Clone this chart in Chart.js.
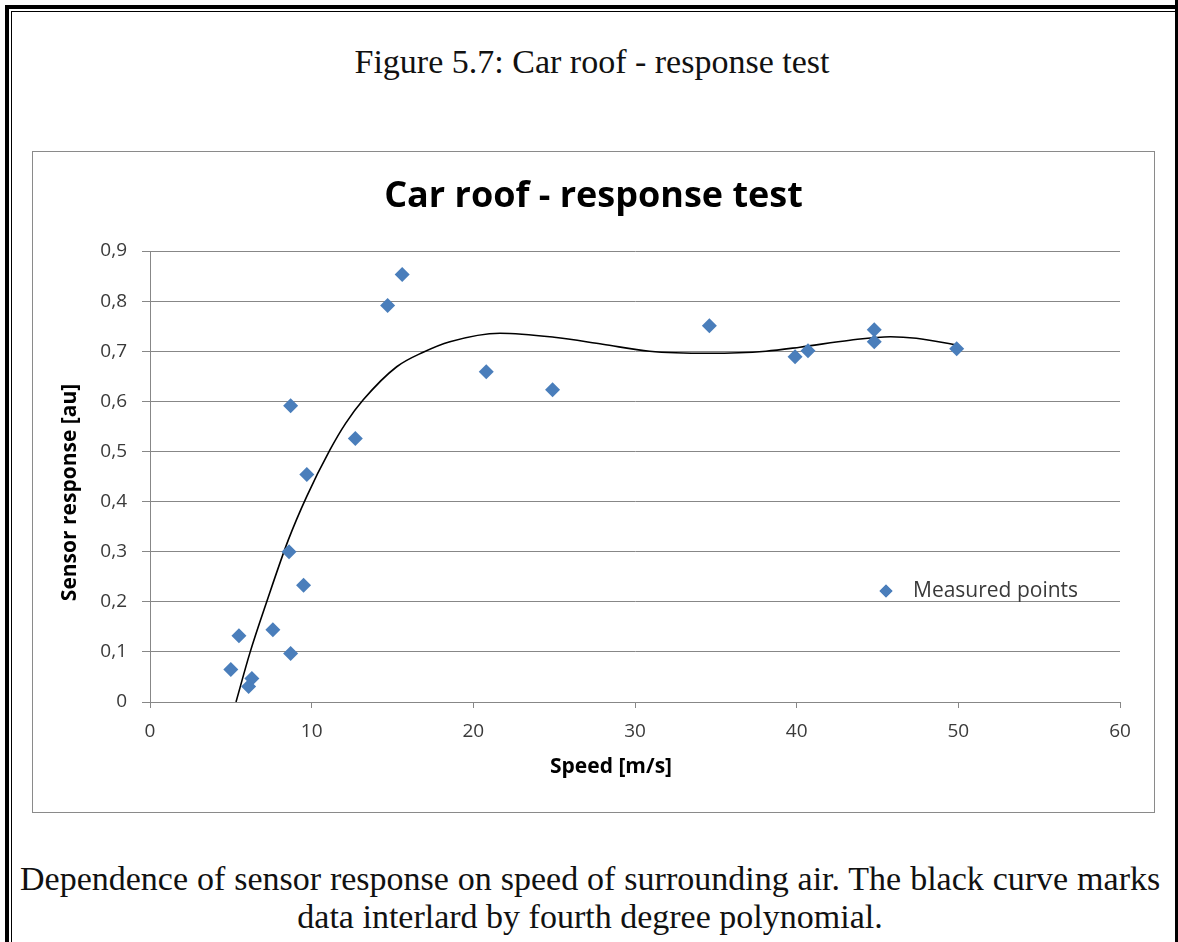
<!DOCTYPE html>
<html>
<head>
<meta charset="utf-8">
<title>Car roof - response test</title>
<script src="https://cdn.jsdelivr.net/npm/chart.js@4.4.1/dist/chart.umd.min.js"></script>
<style>
  html, body { margin: 0; padding: 0; background: #fff; }
  body { width: 1178px; height: 942px; position: relative; overflow: hidden; }
  .rule-thick { position: absolute; left: 5px; top: 5px; width: 1300px; height: 1100px;
                border-left: 4px solid #000; border-top: 4px solid #000; }
  .rule-thin  { position: absolute; left: 11px; top: 11px; width: 1300px; height: 1100px;
                border-left: 1.5px solid #000; border-top: 1.5px solid #000; }
  .rule-right { position: absolute; left: 1175px; top: 0; width: 3px; height: 942px; background: #000; }
  .cap { position: absolute; font-family: "Liberation Serif", serif; font-size: 34px;
         line-height: 34px; color: #111; white-space: nowrap; }
  #figTitle { left: 0; width: 1184px; top: 44.5px; text-align: center; }
  #capLine1 { left: 20px; top: 861.5px; }
  #capLine2 { left: 0; width: 1180px; top: 899.5px; text-align: center; }
  #frame { position: absolute; left: 32px; top: 151px; width: 1123px; height: 662px;
           box-sizing: border-box; border: 1px solid #8a8a8a; }
  #chart { position: absolute; left: 32px; top: 151px; }
</style>
</head>
<body>
<div class="rule-thick"></div>
<div class="rule-thin"></div>
<div class="rule-right"></div>
<div class="cap" id="figTitle">Figure 5.7: Car roof - response test</div>
<div id="frame"></div>
<canvas id="chart" width="1123" height="662"></canvas>
<div class="cap" id="capLine1">Dependence of sensor response on speed of surrounding air. The black curve marks</div>
<div class="cap" id="capLine2">data interlard by fourth degree polynomial.</div>
<script>
// Measured sensor response against air speed
const speed    = [5.0, 5.5, 6.3, 6.1, 7.6, 8.7, 8.6, 9.5, 9.7, 8.7, 12.7, 14.7, 15.6, 20.8, 24.9, 34.6, 39.9, 40.7, 44.8, 44.8, 49.9];
const response = [0.065, 0.132, 0.047, 0.031, 0.144, 0.097, 0.300, 0.233, 0.454, 0.591, 0.526, 0.791, 0.853, 0.659, 0.623, 0.751, 0.689, 0.701, 0.743, 0.719, 0.705];

// Fourth degree polynomial trend line, sampled along the curve
const trendSpeed    = [5.32, 6.18, 7.22, 8.55, 9.69, 11.13, 12.1, 13.19, 15.26, 16.9, 18.55, 21.65, 25.0, 28.0, 30.9, 34.6, 38.1, 40.2, 43.3, 45.8, 47.4, 50.0];
const trendResponse = [0.0, 0.098, 0.200, 0.323, 0.410, 0.503, 0.556, 0.603, 0.669, 0.698, 0.719, 0.736, 0.728, 0.714, 0.700, 0.696, 0.700, 0.708, 0.722, 0.729, 0.726, 0.712];

const yTickLabels = ['0', '0,1', '0,2', '0,3', '0,4', '0,5', '0,6', '0,7', '0,8', '0,9'];
const xTickLabels = ['0', '10', '20', '30', '40', '50', '60'];

const chartTitle = 'Car roof - response test';
const xTitle = 'Speed [m/s]';
const yTitle = 'Sensor response [au]';
const legendLabel = 'Measured points';

const markerColor = '#4a7ebb';
const gridColor = '#878787';
const FONT = '"Open Sans", "DejaVu Sans", sans-serif';

const measured = speed.map((s, i) => ({ x: s, y: response[i] }));
const trend = trendSpeed.map((s, i) => ({ x: s, y: trendResponse[i] }));

// Axis titles and the in-plot legend entry
const annotations = {
  id: 'annotations',
  afterDraw(chart) {
    const { ctx, chartArea: a } = chart;
    ctx.save();
    ctx.fillStyle = '#000';
    ctx.font = 'bold 21px ' + FONT;
    ctx.textAlign = 'center';
    ctx.textBaseline = 'middle';
    ctx.fillText(xTitle, (a.left + a.right) / 2 - 24, a.bottom + 65);
    ctx.save();
    ctx.translate(38, (a.top + a.bottom) / 2 + 16);
    ctx.rotate(-Math.PI / 2);
    ctx.fillText(yTitle, 0, 0);
    ctx.restore();

    const lx = a.right - 234, ly = a.top + 340;
    ctx.fillStyle = markerColor;
    Chart.helpers.drawPoint(ctx, { pointStyle: 'rectRot', radius: 6.5, borderWidth: 0 }, lx, ly);
    ctx.fill();
    ctx.fillStyle = '#3a3a3a';
    ctx.font = '21px ' + FONT;
    ctx.textAlign = 'left';
    ctx.fillText(legendLabel, lx + 27, ly);
    ctx.restore();
  }
};

new Chart(document.getElementById('chart'), {
  type: 'scatter',
  data: {
    datasets: [
      {
        label: 'Trend',
        data: trend,
        showLine: true,
        borderColor: '#000',
        borderWidth: 1.6,
        pointRadius: 0,
        cubicInterpolationMode: 'monotone',
        fill: false,
        order: 2
      },
      {
        label: legendLabel,
        data: measured,
        pointStyle: 'rectRot',
        pointRadius: 7.5,
        pointBackgroundColor: markerColor,
        pointBorderColor: markerColor,
        pointBorderWidth: 0,
        order: 1
      }
    ]
  },
  options: {
    responsive: false,
    animation: false,
    layout: { padding: 0 },
    plugins: {
      legend: { display: false },
      tooltip: { enabled: false },
      title: {
        display: true,
        text: chartTitle,
        color: '#000',
        font: { family: FONT, size: 36, weight: 'bold', lineHeight: 1.2 },
        padding: { top: 24, bottom: 32.8 }
      }
    },
    scales: {
      x: {
        type: 'linear',
        min: 0, max: 60,
        afterFit(s) { s.height = 111; },
        ticks: {
          stepSize: 10,
          padding: 12,
          color: '#3a3a3a',
          font: { family: FONT, size: 19 },
          callback: (v) => xTickLabels[Math.round(v / 10)]
        },
        grid: { drawOnChartArea: false, drawTicks: true, tickLength: 6, color: gridColor },
        border: { display: true, color: gridColor, width: 1 }
      },
      y: {
        type: 'linear',
        min: 0, max: 0.9,
        afterFit(s) { s.width = 118; },
        ticks: {
          stepSize: 0.1,
          padding: 15,
          color: '#3a3a3a',
          font: { family: FONT, size: 19 },
          callback: (v) => yTickLabels[Math.round(v * 10)]
        },
        grid: { color: gridColor, tickLength: 8, lineWidth: 1 },
        border: { display: true, color: gridColor, width: 1 }
      },
      // empty strip on the right that keeps the plot clear of the frame
      yRight: {
        type: 'linear',
        position: 'right',
        min: 0, max: 0.9,
        afterFit(s) { s.width = 35; },
        ticks: { display: false },
        grid: { display: false },
        border: { display: false }
      }
    }
  },
  plugins: [annotations]
});

// Spread the first caption line across the full text width
(function justifyFirstLine() {
  const el = document.getElementById('capLine1');
  const target = 1140;
  const spaces = (el.textContent.match(/ /g) || []).length;
  const w = el.scrollWidth;
  el.style.wordSpacing = ((target - w) / spaces) + 'px';
})();
</script>
</body>
</html>
